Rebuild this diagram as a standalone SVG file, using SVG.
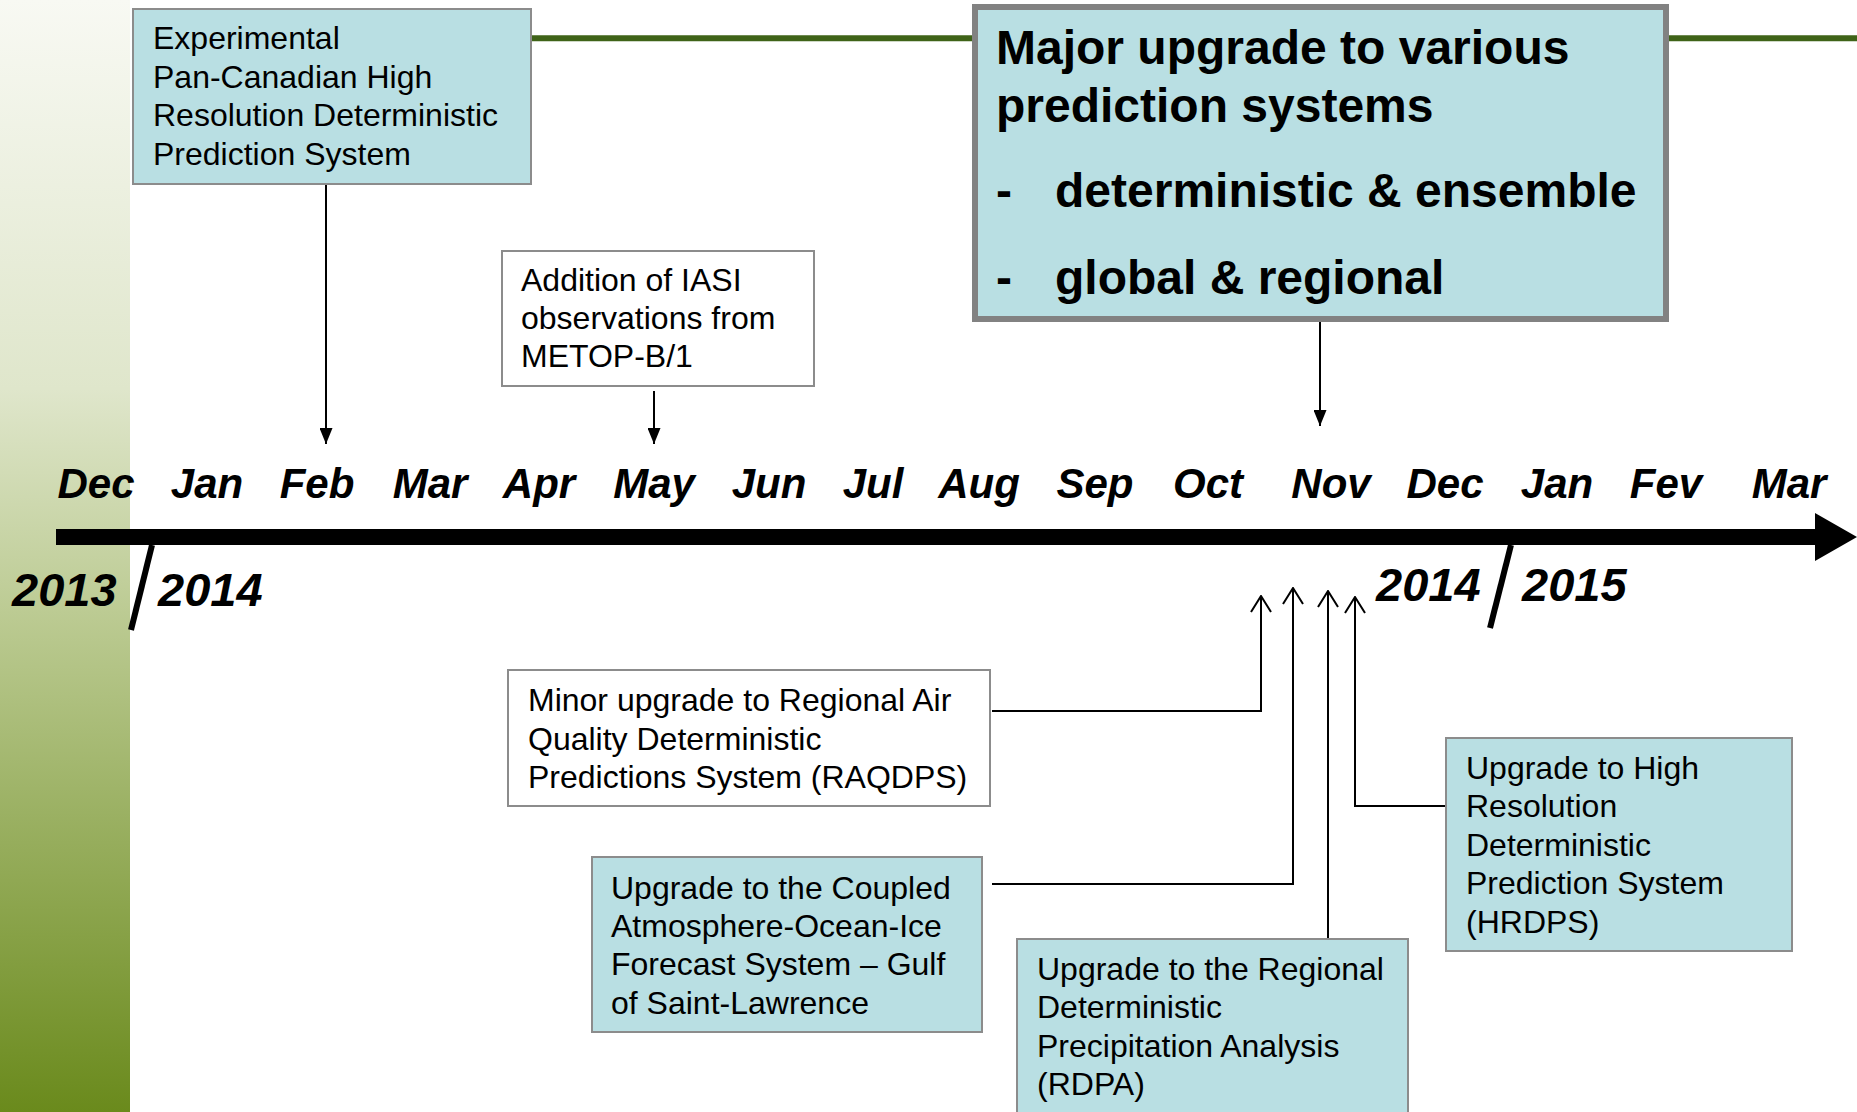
<svg xmlns="http://www.w3.org/2000/svg" width="1857" height="1112" viewBox="0 0 1857 1112">
<defs>
<linearGradient id="band" x1="0" y1="0" x2="0" y2="1">
<stop offset="0" stop-color="#f8f9f3"/>
<stop offset="0.35" stop-color="#dfe6cb"/>
<stop offset="0.55" stop-color="#bccb93"/>
<stop offset="1" stop-color="#6a8a1c"/>
</linearGradient>
<marker id="fill" viewBox="0 0 16 13" refX="16" refY="6.5" markerWidth="16" markerHeight="13" markerUnits="userSpaceOnUse" orient="auto">
<path d="M0,0 L16,6.5 L0,13 z" fill="#000"/>
</marker>
<marker id="open" viewBox="0 0 18 22" refX="17" refY="11" markerWidth="18" markerHeight="22" markerUnits="userSpaceOnUse" orient="auto">
<path d="M1,1 L17,11 L1,21" fill="none" stroke="#000" stroke-width="2"/>
</marker>
</defs>
<style>
.teal{fill:#b9dfe3;stroke:#8c8c8c;stroke-width:2}
.white{fill:#ffffff;stroke:#8c8c8c;stroke-width:2}
.major{fill:#b9dfe3;stroke:#828282;stroke-width:6}
.t{font-family:"Liberation Sans",Arial,sans-serif;font-size:32px;fill:#000}
.b{font-family:"Liberation Sans",Arial,sans-serif;font-size:48px;font-weight:bold;fill:#000}
.m{font-family:"Liberation Sans",Arial,sans-serif;font-size:42px;font-weight:bold;font-style:italic;fill:#000;text-anchor:middle}
.y{font-family:"Liberation Sans",Arial,sans-serif;font-size:47px;font-weight:bold;font-style:italic;fill:#000}
.c{fill:none;stroke:#000;stroke-width:2}
</style>
<rect width="1857" height="1112" fill="#ffffff"/>
<rect x="0" y="0" width="130" height="1112" fill="url(#band)"/>
<line x1="531" y1="38.3" x2="1857" y2="38.3" stroke="#3f6318" stroke-width="6"/>

<g id="timeline">
<rect x="56" y="529" width="1762" height="16" fill="#000"/>
<polygon points="1815,513 1857,537 1815,561" fill="#000"/>
<line x1="152" y1="545" x2="131" y2="630" stroke="#000" stroke-width="6"/>
<line x1="1511" y1="545" x2="1490" y2="628" stroke="#000" stroke-width="6"/>
<text class="m" x="96" y="498">Dec</text>
<text class="m" x="207" y="498">Jan</text>
<text class="m" x="317" y="498">Feb</text>
<text class="m" x="430" y="498">Mar</text>
<text class="m" x="539" y="498">Apr</text>
<text class="m" x="654" y="498">May</text>
<text class="m" x="769" y="498">Jun</text>
<text class="m" x="873" y="498">Jul</text>
<text class="m" x="979" y="498">Aug</text>
<text class="m" x="1095" y="498">Sep</text>
<text class="m" x="1208" y="498">Oct</text>
<text class="m" x="1331" y="498">Nov</text>
<text class="m" x="1445" y="498">Dec</text>
<text class="m" x="1557" y="498">Jan</text>
<text class="m" x="1666" y="498">Fev</text>
<text class="m" x="1789" y="498">Mar</text>
<text class="y" x="12" y="606">2013</text>
<text class="y" x="158" y="606">2014</text>
<text class="y" x="1376" y="601">2014</text>
<text class="y" x="1522" y="601">2015</text>
</g>

<g id="connectors">
<path class="c" d="M326,184 L326,444" marker-end="url(#fill)"/>
<path class="c" d="M654,391 L654,444" marker-end="url(#fill)"/>
<path class="c" d="M1320,320 L1320,426" marker-end="url(#fill)"/>
<path class="c" d="M992,711 L1261,711 L1261,596" marker-end="url(#open)"/>
<path class="c" d="M992,884 L1293,884 L1293,588" marker-end="url(#open)"/>
<path class="c" d="M1328,939 L1328,591" marker-end="url(#open)"/>
<path class="c" d="M1446,806 L1355,806 L1355,597" marker-end="url(#open)"/>
</g>

<g id="node-experimental">
<rect class="teal" x="133" y="9" width="398" height="175"/>
<text class="t" x="153" y="49">Experimental</text>
<text class="t" x="153" y="88">Pan-Canadian High</text>
<text class="t" x="153" y="126">Resolution Deterministic</text>
<text class="t" x="153" y="165">Prediction System</text>
</g>

<g id="node-iasi">
<rect class="white" x="502" y="251" width="312" height="135"/>
<text class="t" x="521" y="291">Addition of IASI</text>
<text class="t" x="521" y="329">observations from</text>
<text class="t" x="521" y="367">METOP-B/1</text>
</g>

<g id="node-major">
<rect class="major" x="975" y="7" width="691" height="312"/>
<text class="b" x="996" y="64">Major upgrade to various</text>
<text class="b" x="996" y="122">prediction systems</text>
<text class="b" x="996" y="207">-</text>
<text class="b" x="1055" y="207">deterministic &amp; ensemble</text>
<text class="b" x="996" y="294">-</text>
<text class="b" x="1055" y="294">global &amp; regional</text>
</g>

<g id="node-raqdps">
<rect class="white" x="508" y="670" width="482" height="136"/>
<text class="t" x="528" y="711">Minor upgrade to Regional Air</text>
<text class="t" x="528" y="750">Quality Deterministic</text>
<text class="t" x="528" y="788">Predictions System (RAQDPS)</text>
</g>

<g id="node-coupled">
<rect class="teal" x="592" y="857" width="390" height="175"/>
<text class="t" x="611" y="899">Upgrade to the Coupled</text>
<text class="t" x="611" y="937">Atmosphere-Ocean-Ice</text>
<text class="t" x="611" y="975">Forecast System – Gulf</text>
<text class="t" x="611" y="1014">of Saint-Lawrence</text>
</g>

<g id="node-rdpa">
<rect class="teal" x="1017" y="939" width="391" height="190"/>
<text class="t" x="1037" y="980">Upgrade to the Regional</text>
<text class="t" x="1037" y="1018">Deterministic</text>
<text class="t" x="1037" y="1057">Precipitation Analysis</text>
<text class="t" x="1037" y="1095">(RDPA)</text>
</g>

<g id="node-hrdps">
<rect class="teal" x="1446" y="738" width="346" height="213"/>
<text class="t" x="1466" y="779">Upgrade to High</text>
<text class="t" x="1466" y="817">Resolution</text>
<text class="t" x="1466" y="856">Deterministic</text>
<text class="t" x="1466" y="894">Prediction System</text>
<text class="t" x="1466" y="933">(HRDPS)</text>
</g>
</svg>
